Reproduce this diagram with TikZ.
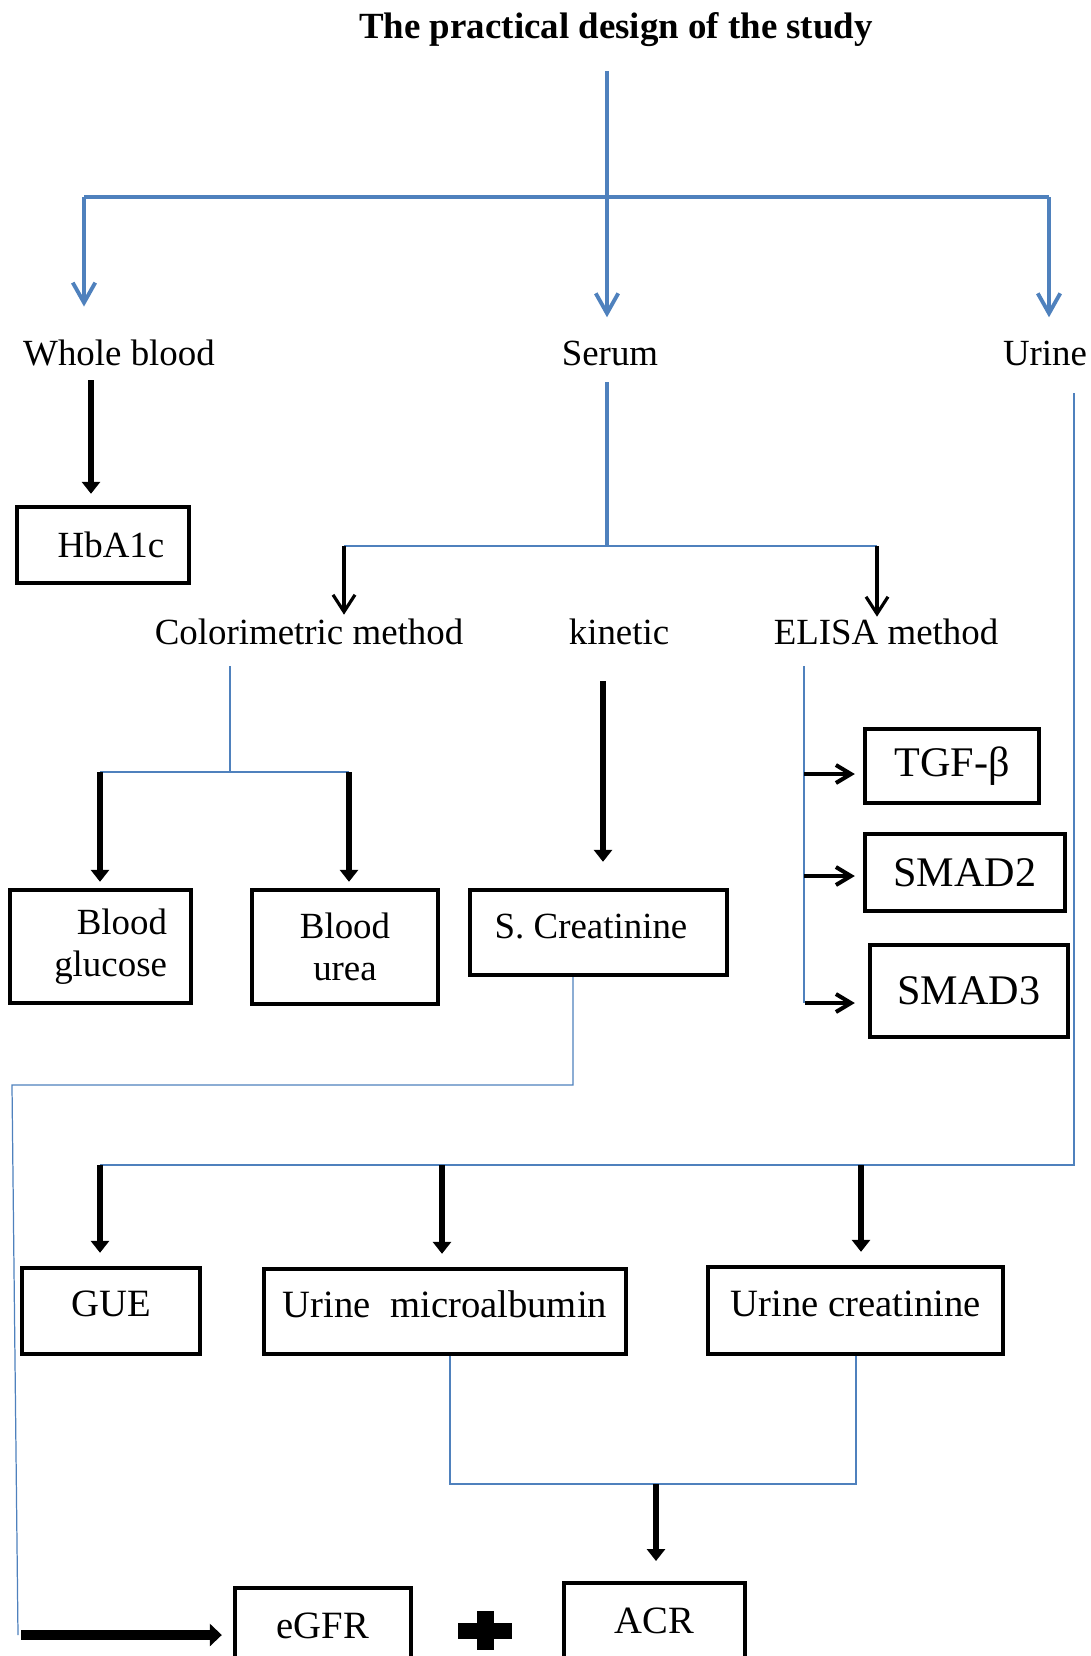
\documentclass[tikz,border=0pt]{standalone}
\usepackage{fontspec}
\setmainfont{Liberation Serif}
\usetikzlibrary{arrows.meta,positioning,calc}
\definecolor{lineblue}{RGB}{79,129,189}

\begin{document}
\begin{tikzpicture}
   [x=0.02cm,y=-0.02cm,
    lbl/.style={inner sep=0pt,font=\fontsize{21}{24}\selectfont},
    tbox/.style={draw,line width=2.5pt,inner sep=0pt,align=center,
         font=\fontsize{21}{24}\selectfont},
    bigbox/.style={tbox,font=\fontsize{24}{28}\selectfont},
    lowbox/.style={tbox,text depth=0.28cm,font=\fontsize{22}{26}\selectfont},
    bline/.style={draw=lineblue,line width=2.2pt},
    bthin/.style={draw=lineblue,line width=0.7pt},
    barr/.style={bline,-{Straight Barb[length=0.4cm,width=0.45cm]}},
    thinarr/.style={draw=black,line width=1.8pt,-{Straight Barb[length=0.34cm,width=0.44cm]}},
    sidearr/.style={draw=black,line width=2.3pt,-{Straight Barb[length=0.3cm,width=0.36cm]}},
    fatarr/.style={draw=black,line width=3.4pt,-{Triangle[length=0.24cm,width=0.36cm]}},
    egfrarr/.style={draw=black,line width=5.5pt,-{Triangle[length=0.24cm,width=0.44cm]}}]
\useasboundingbox (0,0) rectangle (1091,1656);
\clip (0,0) rectangle (1091,1656);

\node [lbl,font=\bfseries\fontsize{21}{24}\selectfont] (title) at (616,30) {The practical design of the study};
\node [lbl] (whole) at (119,353) {Whole blood};
\node [lbl] (serum) at (610,353) {Serum};
\node [lbl] (urine) at (1045,353) {Urine};
\node [tbox,minimum width=3.44cm,minimum height=1.52cm] (hba) at (103,545) {\hspace*{0.32cm}HbA1c};
\node [lbl] (color) at (309,632) {Colorimetric method};
\node [lbl] (kinetic) at (619,632) {kinetic};
\node [lbl] (elisa) at (886,632) {ELISA method};
\node [tbox,minimum height=2.26cm,text width=2.66cm,inner xsep=0.48cm,align=right] (gluc) at (100.5,946.5) {Blood\\glucose};
\node [tbox,minimum width=3.72cm,minimum height=2.28cm] (urea) at (345,947) {Blood\\urea};
\node [tbox,minimum width=5.14cm,minimum height=1.70cm,text depth=0.26cm] (screat) at (598.5,932.5) {S. Creatinine\hspace*{0.3cm}};
\node [bigbox,minimum width=3.48cm,minimum height=1.48cm] (tgf) at (952,766) {TGF-β};
\node [bigbox,minimum width=4.0cm,minimum height=1.54cm] (smadb) at (965,872.5) {SMAD2};
\node [bigbox,minimum width=3.96cm,minimum height=1.84cm] (smadc) at (969,991) {SMAD3};
\node [lowbox,minimum width=3.56cm,minimum height=1.72cm] (gue) at (111,1311) {GUE};
\node [lowbox,minimum width=7.24cm,minimum height=1.70cm] (ualb) at (445,1311.5) {Urine\ \ microalbumin};
\node [lowbox,minimum width=5.90cm,minimum height=1.74cm] (ucreat) at (855.5,1310.5) {Urine creatinine};
\node [lowbox,anchor=north,minimum width=3.52cm,inner ysep=0.5cm] (egfr) at (323,1586) {eGFR};
\node [lowbox,anchor=north,minimum width=3.62cm,inner ysep=0.5cm] (acr) at (654.5,1581) {ACR};

% sample types
\coordinate (topA) at (607,71);
\coordinate (topL) at (84,197);
\coordinate (topR) at (1049,197);
\draw [barr,shorten >=0.46cm] (topA) -- (topA |- serum.north);
\draw [bline] (topL) -- (topR);
\draw [barr,shorten >=0.66cm] (topL) -- (topL |- whole.north);
\draw [barr,shorten >=0.46cm] (topR) -- (topR |- urine.north);

% whole blood
\coordinate (wbA) at (91,380);
\draw [fatarr,shorten >=0.22cm] (wbA) -- (wbA |- hba.north);

% serum
\coordinate (seA) at (607,382);
\coordinate (seB) at (607,546);
\coordinate (seL) at (344,546);
\coordinate (seR) at (877,546);
\draw [bline] (seA) -- (seB);
\draw [bthin] (seL) -- (seR);
\draw [thinarr,shorten >=0.08cm] (seL) -- (seL |- color.north);
\draw [thinarr,shorten >=0.04cm] (seR) -- (seR |- elisa.north);

% colorimetric
\coordinate (coA) at (230,666);
\coordinate (coB) at (230,772);
\coordinate (coL) at (100,772);
\coordinate (coR) at (349,772);
\draw [bthin] (coA) -- (coB);
\draw [bthin] (coL) -- (coR);
\draw [fatarr,shorten >=0.12cm] (coL) -- (coL |- gluc.north);
\draw [fatarr,shorten >=0.12cm] (coR) -- (coR |- urea.north);

% kinetic
\coordinate (kiA) at (603,681);
\draw [fatarr,shorten >=0.52cm] (kiA) -- (kiA |- screat.north);

% ELISA
\coordinate (elA) at (804,666);
\coordinate (elB) at (804,1003);
\coordinate (elT) at (804,774);
\coordinate (elS) at (804,876);
\coordinate (elU) at (805,1003);
\draw [bthin] (elA) -- (elB);
\draw [sidearr,shorten >=0.16cm] (elT) -- (elT -| tgf.west);
\draw [sidearr,shorten >=0.16cm] (elS) -- (elS -| smadb.west);
\draw [sidearr,shorten >=0.26cm] (elU) -- (elU -| smadc.west);

% S. Creatinine to eGFR
\coordinate (scA) at (573,1085);
\coordinate (scB) at (12,1085);
\coordinate (scC) at (18,1635);
\coordinate (egA) at (21,1635);
\draw [bthin] (screat.south -| scA) -- (scA) -- (scB) -- (scC);
\draw [egfrarr,shorten >=0.22cm] (egA) -- (egA -| egfr.west);

% urine
\coordinate (urA) at (1074,393);
\coordinate (urB) at (1074,1165);
\coordinate (urL) at (100,1165);
\coordinate (urM) at (442,1165);
\coordinate (urN) at (861,1165);
\draw [bthin] (urA) -- (urB) -- (urL);
\draw [fatarr,shorten >=0.26cm] (urL) -- (urL |- gue.north);
\draw [fatarr,shorten >=0.26cm] (urM) -- (urM |- ualb.north);
\draw [fatarr,shorten >=0.26cm] (urN) -- (urN |- ucreat.north);

% ACR
\coordinate (acL) at (450,1484);
\coordinate (acR) at (856,1484);
\coordinate (acM) at (656,1484);
\draw [bthin] (ualb.south -| acL) -- (acL) -- (acR) -- (ucreat.south -| acR);
\draw [fatarr,shorten >=0.4cm] (acM) -- (acM |- acr.north);

% plus sign
\fill (458,1623) rectangle (512,1639);
\fill (477,1611) rectangle (494,1650);
\end{tikzpicture}
\end{document}
